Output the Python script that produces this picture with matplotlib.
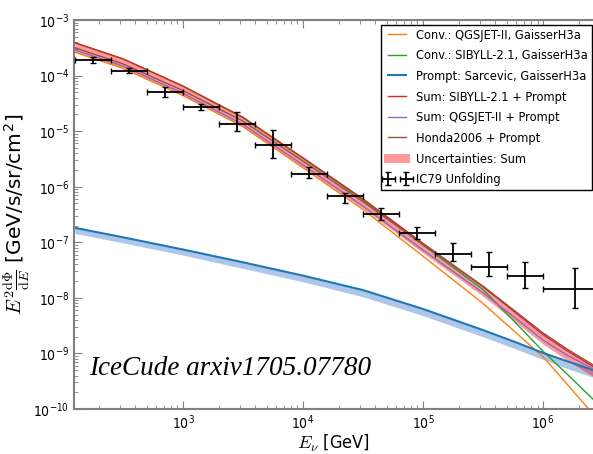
import matplotlib
matplotlib.use('Agg')
import matplotlib.pyplot as plt
import numpy as np

plt.rcParams['font.family'] = ['DejaVu Sans']
plt.rcParams['font.stretch'] = 'condensed'
plt.rcParams['mathtext.fontset'] = 'cm'

# model curves, log10(E/GeV) and log10(E^2 dPhi/dE)
log_e = [2.1, 2.5, 3.0, 3.5, 4.0, 4.5, 5.0, 5.5, 5.75, 6.0, 6.2, 6.42]
conv_qgsjet = [-3.58, -3.87, -4.36, -4.92, -5.66, -6.41, -7.25, -8.10, -8.58, -9.06, -9.55, -10.1]
conv_sibyll = [-3.41, -3.70, -4.19, -4.76, -5.49, -6.24, -7.05, -7.85, -8.40, -8.96, -9.37, -9.83]
prompt = [-6.74, -6.91, -7.13, -7.36, -7.60, -7.86, -8.20, -8.58, -8.78, -8.99, -9.14, -9.30]
prompt_lo = [-6.84, -7.01, -7.23, -7.47, -7.71, -7.98, -8.32, -8.70, -8.90, -9.11, -9.27, -9.43]
prompt_hi = [-6.73, -6.90, -7.12, -7.35, -7.59, -7.85, -8.19, -8.57, -8.77, -8.98, -9.13, -9.29]
sum_sibyll = [-3.41, -3.70, -4.19, -4.75, -5.48, -6.22, -7.02, -7.80, -8.23, -8.66, -8.95, -9.24]
sum_qgsjet = [-3.54, -3.83, -4.32, -4.88, -5.61, -6.35, -7.14, -7.91, -8.33, -8.76, -9.03, -9.28]
honda = [-3.50, -3.79, -4.27, -4.82, -5.54, -6.27, -7.04, -7.79, -8.21, -8.63, -8.92, -9.21]
sum_hi = [-3.40, -3.69, -4.18, -4.74, -5.47, -6.21, -7.00, -7.77, -8.20, -8.62, -8.91, -9.20]
sum_lo = [-3.58, -3.87, -4.36, -4.92, -5.65, -6.39, -7.19, -7.97, -8.40, -8.83, -9.12, -9.42]

# IC79 unfolding points
unf_log_e = [2.25, 2.55, 2.85, 3.15, 3.45, 3.75, 4.05, 4.35, 4.65, 4.95, 5.25, 5.55, 5.85, 6.27]
unf_log_e_lo = [2.1, 2.4, 2.7, 3.0, 3.3, 3.6, 3.9, 4.2, 4.5, 4.8, 5.1, 5.4, 5.7, 6.0]
unf_log_e_hi = [2.4, 2.7, 3.0, 3.3, 3.6, 3.9, 4.2, 4.5, 4.8, 5.1, 5.4, 5.7, 6.0, 6.54]
unf_flux = [-3.72, -3.91, -4.29, -4.56, -4.87, -5.25, -5.77, -6.17, -6.49, -6.83, -7.21, -7.44, -7.60, -7.84]
unf_flux_lo = [-3.77, -3.96, -4.38, -4.62, -5.00, -5.48, -5.84, -6.29, -6.60, -6.94, -7.33, -7.60, -7.82, -8.18]
unf_flux_hi = [-3.67, -3.86, -4.20, -4.51, -4.65, -4.98, -5.64, -6.11, -6.38, -6.72, -7.01, -7.17, -7.35, -7.46]

labels = ['Conv.: QGSJET-II, GaisserH3a', 'Conv.: SIBYLL-2.1, GaisserH3a',
          'Prompt: Sarcevic, GaisserH3a', 'Sum: SIBYLL-2.1 + Prompt',
          'Sum: QGSJET-II + Prompt', 'Honda2006 + Prompt']


def p(a):
    return np.power(10.0, np.array(a))


fig = plt.figure(figsize=(5.93, 4.54), dpi=100)
ax = fig.add_axes([74 / 593, 45 / 454, 1 - 74 / 593, 389 / 454])

e = p(log_e)
ax.fill_between(e, p(prompt_lo), p(prompt_hi), color='#aec7e8', lw=0, zorder=1)
band = ax.fill_between(e, p(sum_lo), p(sum_hi), color='red', alpha=0.4, lw=0, zorder=1,
                       label='Uncertainties: Sum')
lines = []
lines += ax.plot(e, p(conv_qgsjet), color='#ff7f0e', lw=1.0, label=labels[0], zorder=2)
lines += ax.plot(e, p(conv_sibyll), color='#2ca02c', lw=1.0, label=labels[1], zorder=2)
lines += ax.plot(e, p(prompt), color='#1f77b4', lw=1.5, label=labels[2], zorder=2)
lines += ax.plot(e, p(sum_sibyll), color='#d62728', lw=1.0, label=labels[3], zorder=3)
lines += ax.plot(e, p(sum_qgsjet), color='#9467bd', lw=1.0, label=labels[4], zorder=3)
lines += ax.plot(e, p(honda), color='#8c564b', lw=1.0, label=labels[5], zorder=3)

ue = p(unf_log_e)
uf = p(unf_flux)
xerr = [ue - p(unf_log_e_lo), p(unf_log_e_hi) - ue]
yerr = [uf - p(unf_flux_lo), p(unf_flux_hi) - uf]
eb = ax.errorbar(ue, uf, xerr=xerr, yerr=yerr, fmt='none', ecolor='black', elinewidth=1.3,
                 capsize=2, capthick=1, label='IC79 Unfolding', zorder=4)

ax.set_xscale('log')
ax.set_yscale('log')
ax.set_xlim(123.6, 2.61e6)
ax.set_ylim(1e-10, 1e-3)

for s in ('left', 'bottom', 'top'):
    ax.spines[s].set_color('#808080')
    ax.spines[s].set_linewidth(1.5)
ax.spines['right'].set_visible(False)
ax.tick_params(which='both', direction='in', color='#808080', top=True, right=False,
               labelsize=10)
ax.tick_params(which='major', length=6)
ax.tick_params(which='minor', length=3)

ax.set_xlabel(r'$E_\nu$ [GeV]', fontsize=13, labelpad=0)
ax.set_ylabel(r'$E^2\frac{\mathrm{d}\Phi}{\mathrm{d}E}$ [GeV/s/sr/cm$^{\mathdefault{2}}$]',
              fontsize=14.5, fontstretch='normal', labelpad=1)

ax.text(0.03, 0.105, 'IceCude arxiv1705.07780', transform=ax.transAxes, fontsize=19.5,
        style='italic', family='Liberation Serif', stretch='normal', va='center')

handles = lines + [band, eb]
leg = ax.legend(handles, labels + ['Uncertainties: Sum', 'IC79 Unfolding'],
                loc='upper right', bbox_to_anchor=(0.998, 0.988), borderaxespad=0,
                fontsize=9.2, numpoints=2, fancybox=False, framealpha=1,
                edgecolor='black', labelspacing=0.6, handlelength=2.0,
                handletextpad=0.5, borderpad=0.3)
leg.get_frame().set_linewidth(1.0)

fig.savefig('out.png', dpi=100)
